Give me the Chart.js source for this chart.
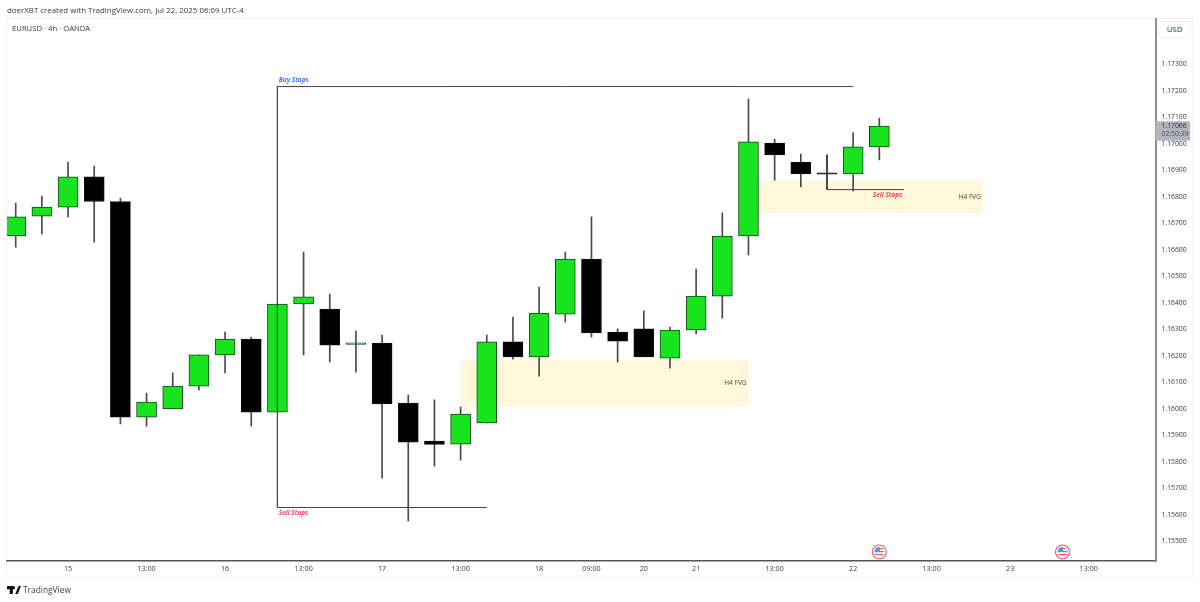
<!DOCTYPE html>
<html><head><meta charset="utf-8">
<style>
html,body{margin:0;padding:0;background:#fff;overflow:hidden}
#wrap{position:relative;width:1200px;height:602px;font-family:"Open Sans","Noto Sans",sans-serif;color:#3a3a3a}
canvas{position:absolute;left:0;top:0}
.t{position:absolute;white-space:nowrap}
#frame{position:absolute;left:6px;top:18px;width:1187px;height:560px;border:1px solid #f0f1f4;box-sizing:border-box}
#usd{position:absolute;left:1158px;top:21px;width:33px;height:17px;border:1px solid #f0f1f4;border-radius:3px;box-sizing:border-box;text-align:center;font-size:7.8px;line-height:15px;background:#fff;color:#333}
</style></head><body>
<div id="wrap">
<div id="frame"></div>
<canvas id="c" width="1200" height="602"></canvas>
<div class="t" style="left:7px;top:4px;font-size:7.9px;line-height:12px">doerXBT created with TradingView.com, Jul 22, 2025 06:09 UTC-4</div>
<div class="t" style="left:12px;top:22px;font-size:7.7px;line-height:12px">EURUSD · 4h · OANDA</div>
<div id="usd">USD</div>
<svg style="position:absolute;left:7px;top:586px" width="14" height="8" viewBox="0 0 36 20"><path fill="#111" d="M0 0h15v20H7V8H0zM30 0h6l-8 20h-7zM17 0a4 4 0 1 1 0 8a4 4 0 1 1 0-8z"/></svg>
<div class="t" style="left:23px;top:583px;font-size:8.4px;line-height:14px;color:#444">TradingView</div>
</div>
<script src="https://cdn.jsdelivr.net/npm/chart.js@4/dist/chart.umd.min.js"></script>
<script>
const open_  = [1.16648,1.16723,1.16757,1.16871,1.16778,1.15964,1.15995,1.16081,1.16199,1.16259,1.15983,1.16391,1.16372,1.16239,1.16244,1.16017,1.15874,1.15862,1.15942,1.16248,1.16191,1.16353,1.16561,1.16285,1.16297,1.16187,1.16293,1.16421,1.16648,1.16999,1.16927,1.16886,1.16882,1.16984];
const close_ = [1.16720,1.16757,1.16871,1.16778,1.15964,1.16021,1.16081,1.16199,1.16259,1.15983,1.16391,1.16418,1.16236,1.16245,1.16014,1.15870,1.15861,1.15976,1.16248,1.16191,1.16357,1.16561,1.16282,1.16251,1.16191,1.16293,1.16421,1.16648,1.17003,1.16954,1.16882,1.16881,1.16984,1.17063];
const high_  = [1.16772,1.16799,1.16927,1.16912,1.16791,1.16055,1.16131,1.16199,1.16285,1.16266,1.16391,1.16587,1.16429,1.16289,1.16274,1.16047,1.16029,1.16002,1.16274,1.16342,1.16455,1.16587,1.16720,1.16297,1.16365,1.16304,1.16523,1.16735,1.17165,1.17014,1.16957,1.16954,1.17037,1.17093];
const low_   = [1.16606,1.16655,1.16720,1.16625,1.15938,1.15930,1.15995,1.16066,1.16131,1.15930,1.15983,1.16199,1.16172,1.16134,1.15734,1.15572,1.15779,1.15802,1.15942,1.16183,1.16119,1.16323,1.16266,1.16172,1.16191,1.16149,1.16278,1.16338,1.16576,1.16859,1.16833,1.16825,1.16818,1.16935];
const yTicks = [1.155,1.156,1.157,1.158,1.159,1.160,1.161,1.162,1.163,1.164,1.165,1.166,1.167,1.168,1.169,1.170,1.171,1.172,1.173];
const xTickPos = [2,5,8,11,14,17,20,22,24,26,29,32,35,38,41];
const xTickLabels = ["15","13:00","16","13:00","17","13:00","18","09:00","20","21","13:00","22","13:00","23","13:00"];
const zoneFrom = [17,28], zoneTo = [28,36.96], zoneTop = [1.16180,1.16857], zoneBottom = [1.16003,1.16734];
const zoneLabels = ["H4 FVG","H4 FVG"];
const stopLines = [
  [{x:10,y:1.17212},{x:32,y:1.17212}],
  [{x:10,y:1.17212},{x:10,y:1.15623}],
  [{x:10,y:1.15623},{x:18,y:1.15623}],
  [{x:31,y:1.16954},{x:31,y:1.16823},{x:33.94,y:1.16823}]
];
const stopLabels = ["Buy Stops","Sell Stops","Sell Stops"];
const stopLabelX = [10.05,10.05,32.75], stopLabelY = [1.17214,1.15623,1.16825], stopLabelColor = ["#3f74ff","#f5475d","#f5475d"];
const eventPos = [33,40];
const lastPrice = 1.17066, countdown = "02:50:39";

const GREEN="#17e31f", GEDGE="#16431c", WICK="#4a4a4a";
const isUp = open_.map((o,i)=>close_[i]>=o);
const idx = open_.map((_,i)=>i);

const decor = {
  id:'decor',
  beforeDatasetsDraw(ch){
    const {ctx,scales:{x,y}} = ch;
    ctx.save();
    zoneFrom.forEach((f,i)=>{
      ctx.fillStyle="#fff8da";
      const l=x.getPixelForValue(f), r=x.getPixelForValue(zoneTo[i]), t=y.getPixelForValue(zoneTop[i]), b=y.getPixelForValue(zoneBottom[i]);
      ctx.fillRect(l,t,r-l,b-t);
      ctx.fillStyle="#444"; ctx.font='6.5px "Open Sans",sans-serif'; ctx.textAlign="right"; ctx.textBaseline="middle";
      ctx.fillText(zoneLabels[i],r-2,(t+b)/2);
    });
    ctx.restore();
  },
  afterDatasetsDraw(ch){
    const {ctx,scales:{x,y},chartArea:a} = ch;
    ctx.save();
    stopLabels.forEach((s,i)=>{
      ctx.fillStyle=stopLabelColor[i]; ctx.font='italic bold 6.5px "Open Sans",sans-serif';
      ctx.textAlign="left"; ctx.textBaseline="middle";
      const py=y.getPixelForValue(stopLabelY[i]);
      ctx.fillText(s,x.getPixelForValue(stopLabelX[i]),py+(i===0?-5.8:6));
    });
    eventPos.forEach(p=>{
      const cx=x.getPixelForValue(p), cy=a.bottom-9;
      ctx.save();
      ctx.beginPath();ctx.arc(cx,cy,7,0,Math.PI*2);ctx.fillStyle="#fff";ctx.fill();
      ctx.lineWidth=1.1;ctx.strokeStyle="#f7525f";ctx.stroke();
      ctx.beginPath();ctx.arc(cx,cy,5,0,Math.PI*2);ctx.clip();
      ctx.fillStyle="#fff";ctx.fillRect(cx-5,cy-5,10,10);
      ctx.fillStyle="#f7525f";
      for(let k=-4;k<5;k+=3) ctx.fillRect(cx-5,cy+k,10,1.2);
      ctx.fillStyle="#4f94ea";ctx.fillRect(cx-5,cy-5,5.5,5);
      ctx.restore();
    });
    const py=y.getPixelForValue(lastPrice);
    ctx.fillStyle="#b2b5be";ctx.fillRect(a.right,py-4,34.5,19.5);
    ctx.fillStyle="#2a2e39";ctx.font='6.8px "Open Sans",sans-serif';ctx.textAlign="left";ctx.textBaseline="middle";
    ctx.fillText(lastPrice.toFixed(5),a.right+6,py+0.7);
    ctx.fillStyle="#50535e";
    ctx.fillText(countdown,a.right+6,py+8.7);
    ctx.restore();
  }
};

new Chart(document.getElementById('c'),{
  type:'bar',
  plugins:[decor],
  data:{datasets:[
    ...stopLines.map(pts=>({type:'line',data:pts,borderColor:'#444',borderWidth:1,pointRadius:0,tension:0,fill:false,order:0})),
    {type:'bar',grouped:false,data:idx.map(i=>({x:i,y:[open_[i],close_[i]]})),barThickness:20,
     backgroundColor:isUp.map(u=>u?GREEN:'#000'),borderColor:isUp.map(u=>u?GEDGE:'#111'),borderWidth:1,borderSkipped:false,order:1},
    {type:'bar',grouped:false,data:idx.map(i=>({x:i,y:[low_[i],high_[i]]})),barThickness:1,
     backgroundColor:WICK,borderWidth:0,order:2}
  ]},
  options:{
    responsive:false,animation:false,devicePixelRatio:1,
    layout:{padding:{left:7,top:19,right:7,bottom:24}},
    plugins:{legend:{display:false},tooltip:{enabled:false},title:{display:false}},
    scales:{
      x:{type:'linear',offset:false,min:-0.333,max:43.553,
        grid:{display:false,drawTicks:false},
        border:{display:true,color:'#555',width:1.5},
        afterBuildTicks(s){s.ticks=xTickPos.map(v=>({value:v}));},
        afterFit(s){s.height=17;},
        ticks:{autoSkip:false,maxRotation:0,padding:4,color:'#3a3a3a',font:{size:7.2,family:'"Open Sans",sans-serif'},
          callback:(v)=>xTickLabels[xTickPos.indexOf(v)]}},
      y:{type:'linear',position:'right',min:1.15421,max:1.17467,
        grid:{display:false,drawTicks:false},
        border:{display:true,color:'#8f8f8f',width:2},
        afterBuildTicks(s){s.ticks=yTicks.map(v=>({value:v}));},
        afterFit(s){s.width=37.5;},
        ticks:{autoSkip:false,padding:6,labelOffset:1,color:'#3a3a3a',font:{size:6.8,family:'"Open Sans",sans-serif'},
          callback:(v)=>v.toFixed(5)}}
    }
  }
});
</script>
</body></html>
